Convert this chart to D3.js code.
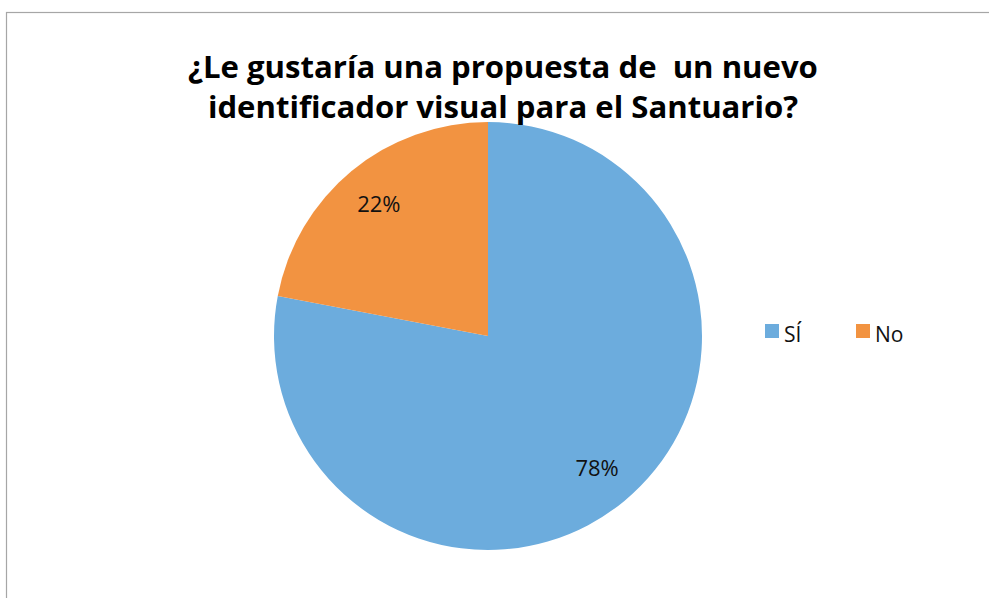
<!DOCTYPE html>
<html>
<head>
<meta charset="utf-8">
<script src="https://cdn.jsdelivr.net/npm/d3@7"></script>
<style>
  body { margin: 0; background: #fff; }
  text { font-family: "Open Sans", "Liberation Sans", sans-serif; }
</style>
</head>
<body>
<svg id="chart" width="989" height="598"></svg>
<script>
// data
var categories = ["SÍ", "No"];
var values = [78, 22];
var colors = ["#6CACDD", "#F29341"];
var titleLines = ["¿Le gustaría una propuesta de  un nuevo", "identificador visual para el Santuario?"];

var svg = d3.select("#chart"),
    width = +svg.attr("width"),
    height = +svg.attr("height");

// chart border (runs off the right and bottom edge)
svg.append("rect")
  .attr("x", 6.5).attr("y", 12.5)
  .attr("width", width).attr("height", height)
  .attr("fill", "none")
  .attr("stroke", "#a6a6a6")
  .attr("stroke-width", 1.2);

var cx = 488, cy = 336, radius = 214;

var color = d3.scaleOrdinal().domain(categories).range(colors);

var pie = d3.pie()
  .value(function(d) { return d.value; })
  .sort(null);

var data = categories.map(function(c, i) { return {name: c, value: values[i]}; });

var arc = d3.arc().innerRadius(0).outerRadius(radius);
var labelArc = d3.arc().innerRadius(radius * 0.6).outerRadius(radius);

var g = svg.append("g").attr("transform", "translate(" + cx + "," + cy + ")");

g.selectAll("path")
  .data(pie(data))
  .enter()
  .append("path")
    .attr("d", arc)
    .attr("fill", function(d) { return color(d.data.name); });

var total = d3.sum(values);
g.selectAll("text.lbl")
  .data(pie(data))
  .enter()
  .append("text")
    .attr("class", "lbl")
    .attr("transform", function(d) { return "translate(" + labelArc.centroid(d) + ")"; })
    .attr("text-anchor", "middle")
    .attr("dy", "0.35em")
    .style("font-size", "22px")
    .attr("fill", "#111")
    .text(function(d) { return Math.round(d.data.value / total * 100) + "%"; });

// title, scaled so the first line spans about 630px
var title = svg.append("g");
var t1 = title.append("text")
  .attr("x", 503).attr("y", 78)
  .attr("text-anchor", "middle")
  .style("font-weight", "bold")
  .style("font-size", "30px")
  .style("white-space", "pre")
  .attr("fill", "#000")
  .text(titleLines[0]);
var w = t1.node().getComputedTextLength();
var fs = 30 * 630 / w;
t1.style("font-size", fs + "px");
title.append("text")
  .attr("x", 503).attr("y", 118)
  .attr("text-anchor", "middle")
  .style("font-weight", "bold")
  .style("font-size", fs + "px")
  .attr("fill", "#000")
  .text(titleLines[1]);

// legend
var legendX = [765, 856];
var legend = svg.append("g").selectAll("g")
  .data(categories)
  .enter()
  .append("g")
    .attr("transform", function(d, i) { return "translate(" + legendX[i] + ",324)"; });

legend.append("rect")
  .attr("width", 14).attr("height", 14)
  .attr("fill", function(d) { return color(d); });

legend.append("text")
  .attr("x", 19).attr("y", 18)
  .style("font-size", "21px")
  .attr("fill", "#111")
  .text(function(d) { return d; });
</script>
</body>
</html>
